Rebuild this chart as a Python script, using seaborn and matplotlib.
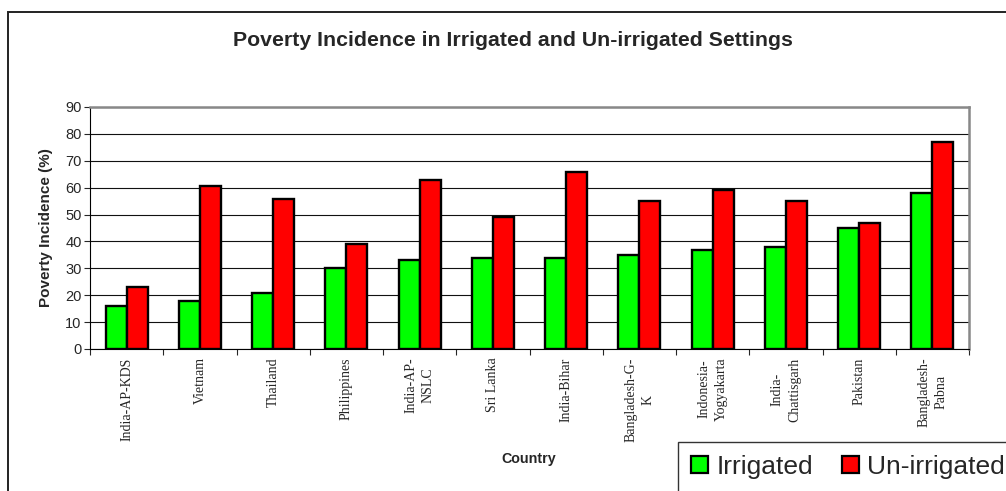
import matplotlib
matplotlib.use('Agg')
import matplotlib.pyplot as plt
import matplotlib.patches as mpatches
from matplotlib.ticker import FixedLocator
import pandas as pd
import seaborn as sns

countries = ['India-AP-KDS', 'Vietnam', 'Thailand', 'Philippines', 'India-AP-\nNSLC',
             'Sri Lanka', 'India-Bihar', 'Bangladesh-G-\nK', 'Indonesia-\nYogyakarta',
             'India-\nChattisgarh', 'Pakistan', 'Bangladesh-\nPabna']
irrigated = [16, 18, 21, 30, 33, 34, 34, 35, 37, 38, 45, 58]
unirrigated = [23, 60.5, 55.7, 39, 63, 49, 65.7, 55, 59, 55, 47, 77]
series = ['Irrigated', 'Un-irrigated']
colors = {'Irrigated': '#00FF00', 'Un-irrigated': '#FF0000'}

df = pd.DataFrame({
    'Country': countries * 2,
    'Setting': [series[0]] * len(countries) + [series[1]] * len(countries),
    'Poverty': irrigated + unirrigated,
})

sns.set_style('white')
plt.rcParams['font.family'] = ['Liberation Sans', 'DejaVu Sans']

fig = plt.figure(figsize=(10.06, 4.91), dpi=100)
ax = fig.add_axes([90/1006, 1-349/491, 879/1006, 242/491])

sns.barplot(data=df, x='Country', y='Poverty', hue='Setting', palette=colors,
            width=0.57, gap=0, edgecolor='black', linewidth=1.7, ax=ax,
            legend=False, saturation=1)

ax.set_ylim(0, 90)
ax.set_xlim(-0.5, len(countries) - 0.5)
ax.set_yticks(range(0, 91, 10))
ax.yaxis.grid(True, color='#111111', linewidth=0.8)
ax.set_axisbelow(True)

for s in ['top', 'right']:
    ax.spines[s].set_color('#888888')
    ax.spines[s].set_linewidth(1.8)
for s in ['left', 'bottom']:
    ax.spines[s].set_color('black')
    ax.spines[s].set_linewidth(0.8)

ax.tick_params(axis='y', direction='out', length=4, width=0.8, labelsize=10.5, pad=2, left=True)
ax.set_xticks(range(len(countries)))
ax.set_xticklabels(countries, rotation=90, fontsize=10, family='Liberation Serif',
                   va='top', ha='center', multialignment='center', linespacing=1.4)
ax.tick_params(axis='x', which='major', length=0, pad=6)
ax.xaxis.set_minor_locator(FixedLocator([i - 0.5 for i in range(len(countries) + 1)]))
ax.tick_params(axis='x', which='minor', direction='out', length=4, width=0.8, bottom=True)

ax.set_xlabel('')
ax.set_ylabel('Poverty Incidence (%)', fontsize=11, fontweight='bold')
ax.yaxis.set_label_coords(-37/879, 0.5)

fig.text(529/1006, 1-459/491, 'Country', fontsize=10.3, fontweight='bold',
         ha='center', va='center')
fig.text(513/1006, 1-40/491, 'Poverty Incidence in Irrigated and Un-irrigated Settings',
         fontsize=15.3, fontweight='bold', ha='center', va='center')

# outer chart border (runs off right and bottom edges)
fig.patches.append(mpatches.Rectangle((8/1006, -0.2), 1.2, 1.2 - 12/491,
                                      transform=fig.transFigure, fill=False,
                                      edgecolor='#222222', linewidth=1.4))

handles = [mpatches.Patch(facecolor=colors[s], edgecolor='black', linewidth=1.6, label=s)
           for s in series]
leg = fig.legend(handles=handles, loc='upper left',
                 bbox_to_anchor=(678/1006, 1-441.5/491), ncol=2, fontsize=19,
                 frameon=True, fancybox=False, handlelength=0.65, handleheight=0.65,
                 handletextpad=0.3, columnspacing=1.1, borderpad=0.5, borderaxespad=0)
leg.get_frame().set_edgecolor('black')
leg.get_frame().set_linewidth(1.0)

fig.savefig('out.png', dpi=100)
